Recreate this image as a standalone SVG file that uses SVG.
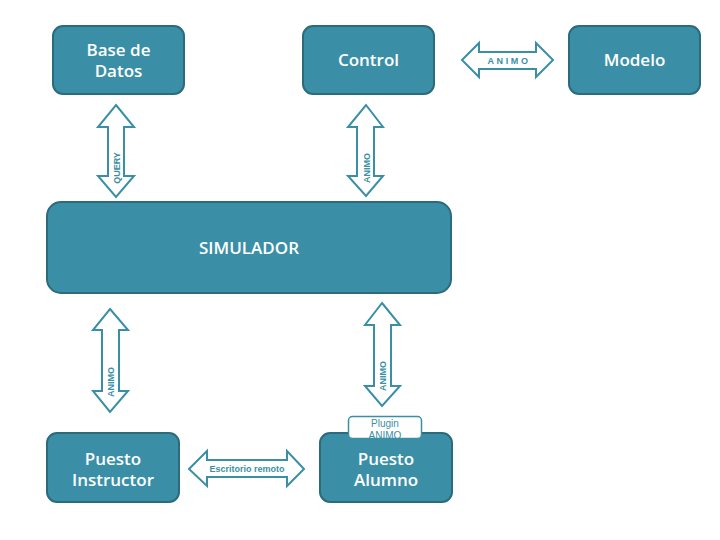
<svg xmlns="http://www.w3.org/2000/svg" width="720" height="540" viewBox="0 0 720 540">
<style>
.box{fill:#3A8FA6;stroke:#2B6B7C;stroke-width:2}
.bt{fill:#fff;font-family:"Open Sans","Liberation Sans",sans-serif;font-weight:600;font-size:17px;text-anchor:middle}
.arr{fill:#fff;stroke:#3A8FA6;stroke-width:2;stroke-linejoin:miter}
.al{fill:#3A8FA6;font-family:"Liberation Sans",Arial,sans-serif;font-weight:bold;font-size:9px;text-anchor:middle}
.tab{fill:#fff;stroke:#3A8FA6;stroke-width:1.5}
.tt{fill:#3A8FA6;font-family:"Liberation Sans",Arial,sans-serif;font-size:10px;text-anchor:middle}
</style>
<defs>
  <clipPath id="tabclip"><rect x="348" y="410" width="74" height="28.5"/></clipPath>
</defs>
<rect width="720" height="540" fill="#fff"/>
<g id="connectors">
  <g id="c-query">
    <polygon class="arr" points="116,105 134,127 124,127 124,176 134,176 116,197 98,176 108,176 108,127 98,127"/>
    <text class="al" transform="translate(119.5,168) rotate(-90)">QUERY</text>
  </g>
  <g id="c-control">
    <polygon class="arr" points="366,105 383,127 374,127 374,176 383,176 366,196 348,176 357,176 357,127 348,127"/>
    <text class="al" transform="translate(369.5,168) rotate(-90)">ANIMO</text>
  </g>
  <g id="c-modelo">
    <polygon class="arr" points="462,60 479,43 479,52 536,52 536,43 553,60 536,77 536,69 479,69 479,77"/>
    <text class="al" x="509" y="63.5" font-size="8" letter-spacing="2.6">ANIMO</text>
  </g>
  <g id="c-instructor">
    <polygon class="arr" points="110,309 128,330 119,330 119,391 128,391 110,412 93,391 102,391 102,330 93,330"/>
    <text class="al" transform="translate(113.5,382) rotate(-90)">ANIMO</text>
  </g>
  <g id="c-alumno">
    <polygon class="arr" points="382,303 400,325 391,325 391,386 400,386 382,406 365,386 374,386 374,325 365,325"/>
    <text class="al" transform="translate(385.5,376) rotate(-90)">ANIMO</text>
  </g>
  <g id="c-escritorio">
    <polygon class="arr" points="189,469 207,451 207,460 287,460 287,451 304,469 287,486 287,477 207,477 207,486"/>
    <text class="al" x="247" y="472">Escritorio remoto</text>
  </g>
</g>
<g id="n-base">
  <rect class="box" x="53" y="26" width="131" height="68" rx="10"/>
  <text class="bt" x="118.5" y="56">Base de</text>
  <text class="bt" x="118.5" y="77">Datos</text>
</g>
<g id="n-control">
  <rect class="box" x="303" y="26" width="131" height="68" rx="10"/>
  <text class="bt" x="368.5" y="66">Control</text>
</g>
<g id="n-modelo">
  <rect class="box" x="569" y="26" width="131" height="68" rx="10"/>
  <text class="bt" x="634.5" y="66">Modelo</text>
</g>
<g id="n-simulador">
  <rect class="box" x="47" y="202" width="404" height="91" rx="14"/>
  <text class="bt" x="249" y="254">SIMULADOR</text>
</g>
<g id="n-instructor">
  <rect class="box" x="47" y="433" width="132" height="69" rx="10"/>
  <text class="bt" x="113" y="465">Puesto</text>
  <text class="bt" x="113" y="486">Instructor</text>
</g>
<g id="n-alumno">
  <rect class="box" x="320" y="433" width="132" height="69" rx="10"/>
  <text class="bt" x="386" y="465">Puesto</text>
  <text class="bt" x="386" y="486">Alumno</text>
  <g id="plugin-tab">
    <rect class="tab" x="348.5" y="416.5" width="73" height="22" rx="4"/>
    <text class="tt" x="385" y="427">Plugin</text>
    <text class="tt" x="385" y="439" clip-path="url(#tabclip)">ANIMO</text>
  </g>
</g>
</svg>
